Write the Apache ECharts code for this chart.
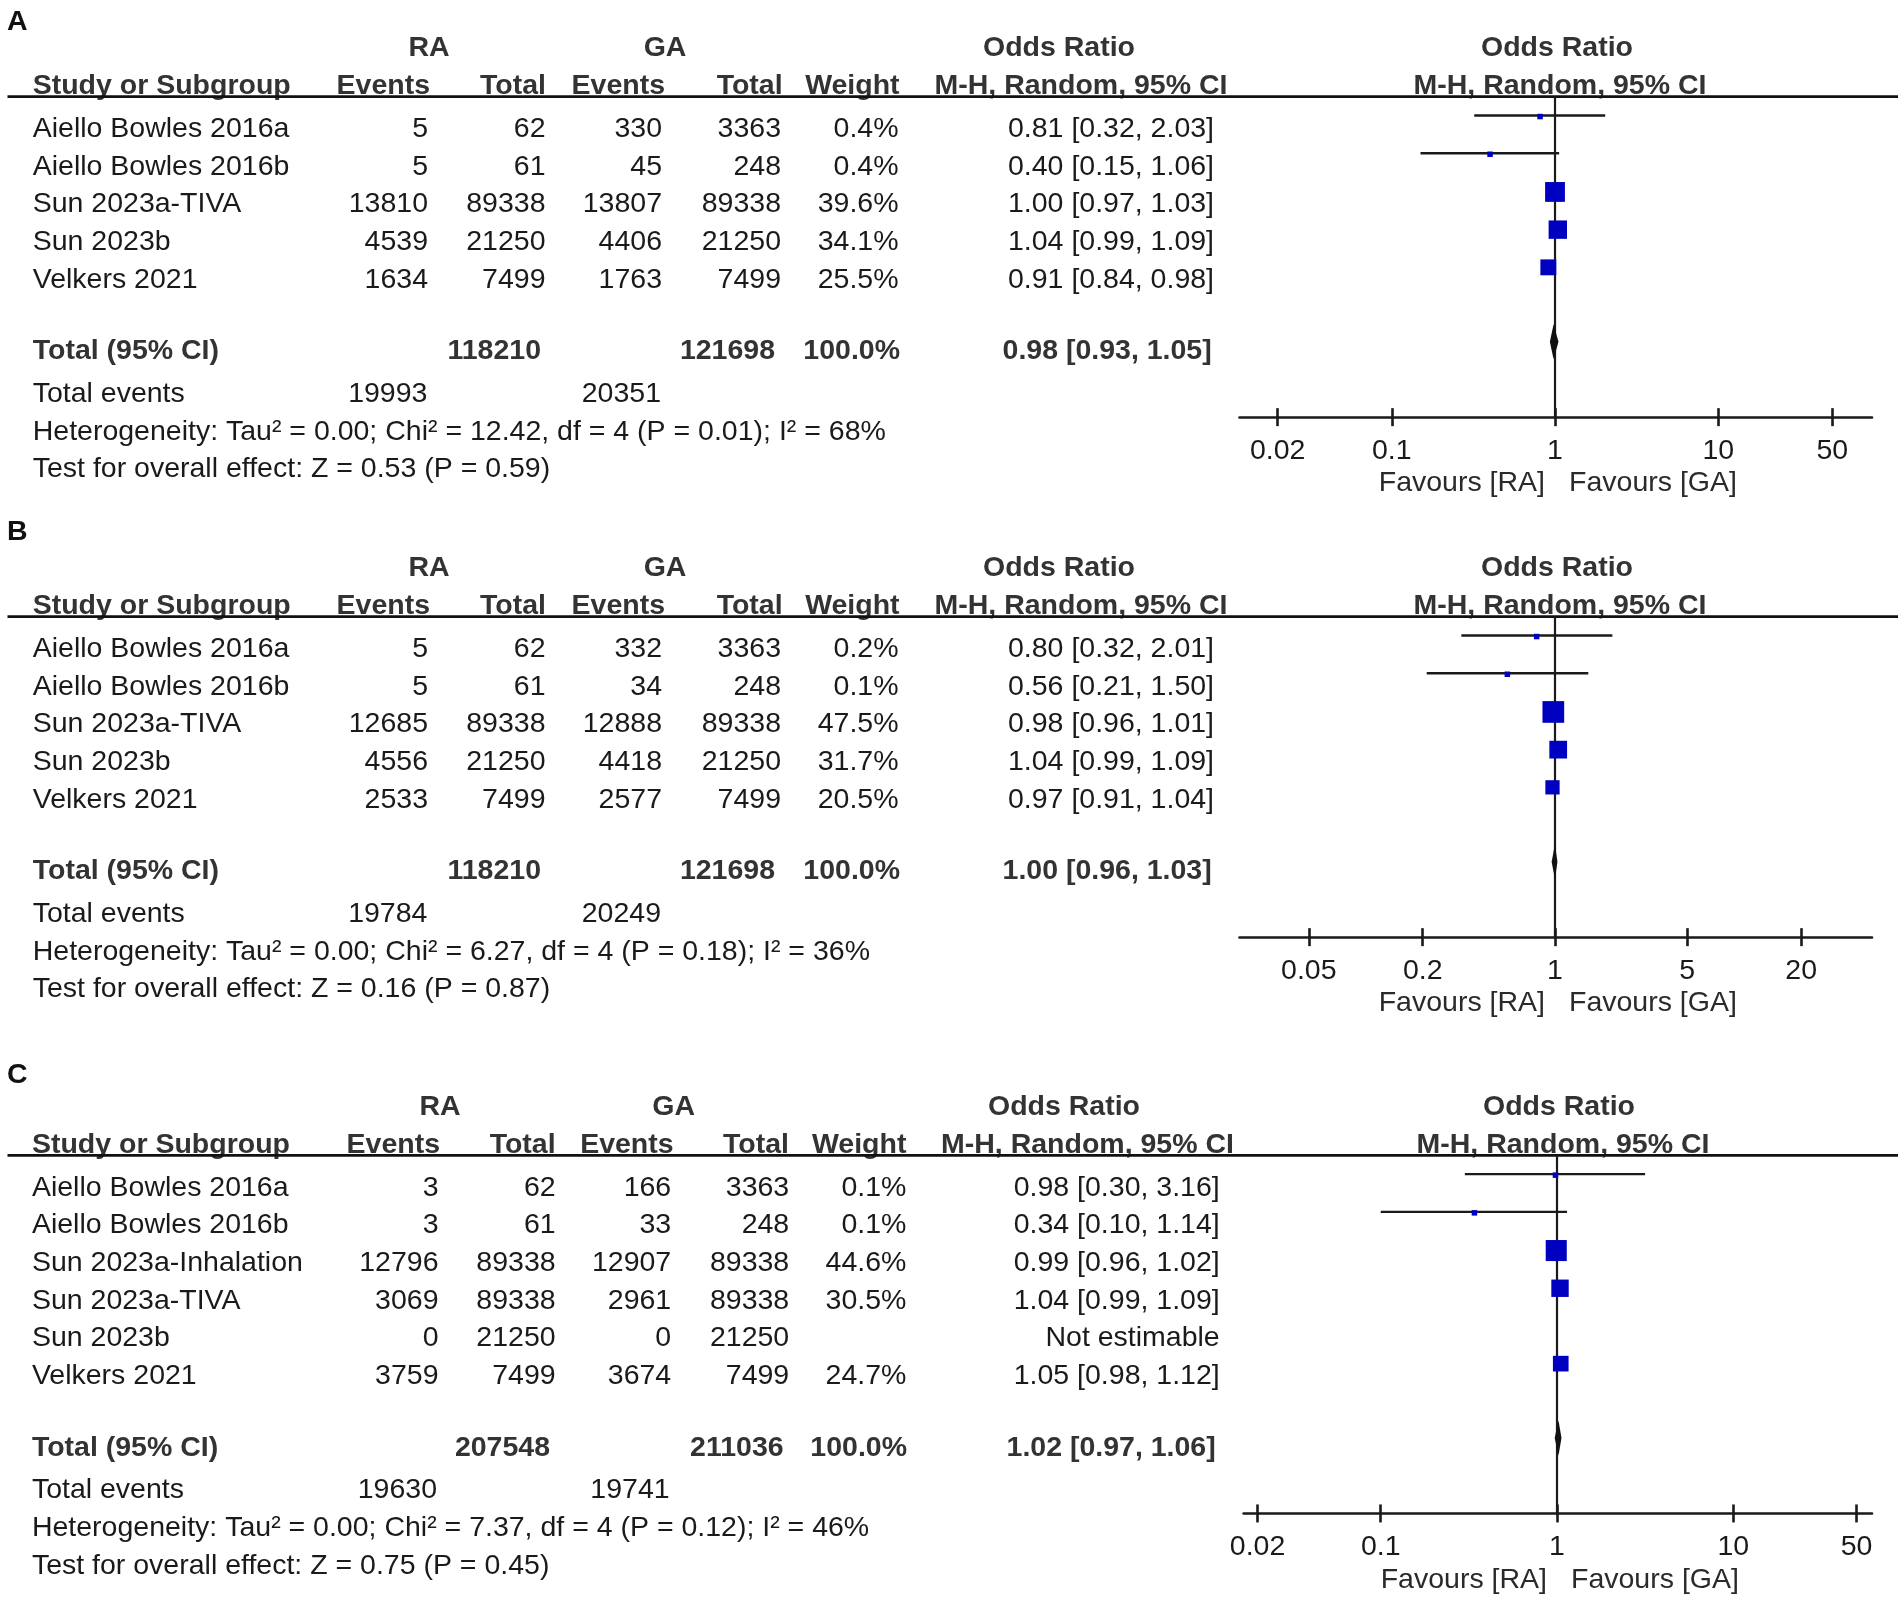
<!DOCTYPE html>
<html><head><meta charset="utf-8">
<script src="https://cdn.jsdelivr.net/npm/echarts@6/dist/echarts.min.js"></script>
<style>html,body{margin:0;padding:0;background:#fff}#c{width:1904px;height:1598px}</style>
</head><body><div id="c"></div>
<script>
// ---------- Panel A ----------
const studiesA = ['Aiello Bowles 2016a','Aiello Bowles 2016b','Sun 2023a-TIVA','Sun 2023b','Velkers 2021'];
const raEventsA = [5,5,13810,4539,1634];
const raTotalA  = [62,61,89338,21250,7499];
const gaEventsA = [330,45,13807,4406,1763];
const gaTotalA  = [3363,248,89338,21250,7499];
const weightA   = [0.4,0.4,39.6,34.1,25.5];
const orA = [0.81,0.40,1.00,1.04,0.91];
const loA = [0.32,0.15,0.97,0.99,0.84];
const hiA = [2.03,1.06,1.03,1.09,0.98];
const pooledA = [0.98,0.93,1.05];
const sumTotalA = [118210,121698];
const sumEventsA = [19993,20351];
const hetA = 'Heterogeneity: Tau² = 0.00; Chi² = 12.42, df = 4 (P = 0.01); I² = 68%';
const testA = 'Test for overall effect: Z = 0.53 (P = 0.59)';
const ticksA = [0.02,0.1,1,10,50];

// ---------- Panel B ----------
const studiesB = ['Aiello Bowles 2016a','Aiello Bowles 2016b','Sun 2023a-TIVA','Sun 2023b','Velkers 2021'];
const raEventsB = [5,5,12685,4556,2533];
const raTotalB  = [62,61,89338,21250,7499];
const gaEventsB = [332,34,12888,4418,2577];
const gaTotalB  = [3363,248,89338,21250,7499];
const weightB   = [0.2,0.1,47.5,31.7,20.5];
const orB = [0.80,0.56,0.98,1.04,0.97];
const loB = [0.32,0.21,0.96,0.99,0.91];
const hiB = [2.01,1.50,1.01,1.09,1.04];
const pooledB = [1.00,0.96,1.03];
const sumTotalB = [118210,121698];
const sumEventsB = [19784,20249];
const hetB = 'Heterogeneity: Tau² = 0.00; Chi² = 6.27, df = 4 (P = 0.18); I² = 36%';
const testB = 'Test for overall effect: Z = 0.16 (P = 0.87)';
const ticksB = [0.05,0.2,1,5,20];

// ---------- Panel C ----------
const studiesC = ['Aiello Bowles 2016a','Aiello Bowles 2016b','Sun 2023a-Inhalation','Sun 2023a-TIVA','Sun 2023b','Velkers 2021'];
const raEventsC = [3,3,12796,3069,0,3759];
const raTotalC  = [62,61,89338,89338,21250,7499];
const gaEventsC = [166,33,12907,2961,0,3674];
const gaTotalC  = [3363,248,89338,89338,21250,7499];
const weightC   = [0.1,0.1,44.6,30.5,null,24.7];
const orC = [0.98,0.34,0.99,1.04,null,1.05];
const loC = [0.30,0.10,0.96,0.99,null,0.98];
const hiC = [3.16,1.14,1.02,1.09,null,1.12];
const pooledC = [1.02,0.97,1.06];
const sumTotalC = [207548,211036];
const sumEventsC = [19630,19741];
const hetC = 'Heterogeneity: Tau² = 0.00; Chi² = 7.37, df = 4 (P = 0.12); I² = 46%';
const testC = 'Test for overall effect: Z = 0.75 (P = 0.45)';
const ticksC = [0.02,0.1,1,10,50];

// ---------- layout (pixels) ----------
const FONT = '"Liberation Sans", Arial, Helvetica, sans-serif';
const FS = 28.5;
const DY = 2.4;
const ROW = 37.7;
const layAB = {name:32.7, cols:[428,545.5,662,781,898.5], hdr:[430,546,665,782.6,899.6],
  tot:[541,775,900,1211.7], ev:[427.4,661], orR:1214, ra:429, ga:665, orHdr:1059, mhHdr:1081, pOR:1557, pMH:1560};
const layC = {name:31.9, cols:[438.5,555.6,671.2,789.2,906.4], hdr:[440,555.6,673.6,789,906.4],
  tot:[550,783.6,907,1215.7], ev:[437,669.6], orR:1219.7, ra:440, ga:673.6, orHdr:1064, mhHdr:1087.5, pOR:1559, pMH:1563};

const panels = [
  {letter:'A', letterY:22, base:0, lay:layAB, left:1239.5, right:1872, xr:[-1.933,1.942], ticks:ticksA,
   studies:studiesA, raE:raEventsA, raT:raTotalA, gaE:gaEventsA, gaT:gaTotalA, w:weightA, or:orA, lo:loA, hi:hiA,
   pooled:pooledA, sumT:sumTotalA, sumE:sumEventsA, het:hetA, test:testA},
  {letter:'B', letterY:532, base:520, lay:layAB, left:1239.5, right:1872, xr:[-1.667,1.675], ticks:ticksB,
   studies:studiesB, raE:raEventsB, raT:raTotalB, gaE:gaEventsB, gaT:gaTotalB, w:weightB, or:orB, lo:loB, hi:hiB,
   pooled:pooledB, sumT:sumTotalB, sumE:sumEventsB, het:hetB, test:testB},
  {letter:'C', letterY:1075.5, base:1058.6, lay:layC, left:1243.6, right:1872, xr:[-1.778,1.787], ticks:ticksC,
   studies:studiesC, raE:raEventsC, raT:raTotalC, gaE:gaEventsC, gaT:gaTotalC, w:weightC, or:orC, lo:loC, hi:hiC,
   pooled:pooledC, sumT:sumTotalC, sumE:sumEventsC, het:hetC, test:testC}
];

const INK = '#1a1a1a', BOLDINK = '#333333', BLUE = '#0000C0';
const lg = Math.log10;
const tickFmt = v => String(parseFloat(Math.pow(10, v).toPrecision(2)));

const grids = [], xAxes = [], yAxes = [], series = [];
panels.forEach((p, g) => {
  const n = p.studies.length;
  const top = p.base + 96.7;
  grids.push({left:p.left, width:p.right - p.left, top:top, height:(n + 3.5) * ROW, containLabel:false});
  const tv = p.ticks.map(lg);
  xAxes.push({type:'value', gridIndex:g, min:p.xr[0], max:p.xr[1], position:'bottom', offset:0,
    axisLine:{show:true, onZero:false, lineStyle:{color:INK, width:2.6}},
    axisTick:{show:true, customValues:tv, length:9, inside:false, lineStyle:{color:INK, width:2.6}},
    axisLabel:{show:true, customValues:tv, formatter:tickFmt, margin:19, fontSize:FS, color:INK, fontFamily:FONT},
    splitLine:{show:false}});
  xAxes.push({type:'value', gridIndex:g, min:p.xr[0], max:p.xr[1], position:'bottom', offset:0,
    axisLine:{show:false, onZero:false},
    axisTick:{show:true, customValues:tv, length:9, inside:true, lineStyle:{color:INK, width:2.6}},
    axisLabel:{show:false}, splitLine:{show:false}});
  yAxes.push({type:'value', gridIndex:g, min:-0.5, max:n + 3, inverse:true, show:false});

  // line of no effect
  series.push({type:'line', xAxisIndex:2*g, yAxisIndex:g, data:[[0,-0.5],[0,n+3]], symbol:'none',
    lineStyle:{color:INK, width:2.2}, silent:true, z:1});
  // study CIs and squares
  const ci = [];
  p.or.forEach((v, i) => {
    if (v == null) return;
    ci.push([lg(p.lo[i]), lg(p.hi[i]), lg(v), i, Math.max(5.5, 3.15 * Math.sqrt(p.w[i]))]);
  });
  series.push({type:'custom', xAxisIndex:2*g, yAxisIndex:g, data:ci, encode:{x:[0,1,2], y:3}, silent:true, z:3,
    renderItem:(params, api) => {
      const y = api.value(3), s = api.value(4);
      const a = api.coord([api.value(0), y]), b = api.coord([api.value(1), y]), c = api.coord([api.value(2), y]);
      return {type:'group', children:[
        {type:'line', shape:{x1:a[0], y1:a[1], x2:b[0], y2:b[1]}, style:{stroke:INK, lineWidth:2.4}},
        {type:'rect', shape:{x:c[0]-s/2, y:c[1]-s/2 + 1, width:s, height:s}, style:{fill:BLUE}}
      ]};
    }});
  // pooled diamond
  series.push({type:'custom', xAxisIndex:2*g, yAxisIndex:g,
    data:[[lg(p.pooled[1]), lg(p.pooled[2]), lg(p.pooled[0]), n + 1]], encode:{x:[0,1,2], y:3}, silent:true, z:3,
    renderItem:(params, api) => {
      const y = api.value(3), h = 17.5;
      const a = api.coord([api.value(0), y]), b = api.coord([api.value(1), y]), c = api.coord([api.value(2), y]);
      return {type:'polygon', shape:{points:[[a[0],a[1]],[c[0],c[1]-h],[b[0],b[1]],[c[0],c[1]+h]]},
        style:{fill:'#111111'}};
    }});
});

const chart = echarts.init(document.getElementById('c'), null, {renderer:'canvas'});
chart.setOption({backgroundColor:'#ffffff', animation:false, grid:grids, xAxis:xAxes, yAxis:yAxes, series:series});

// ---------- table text ----------
function T(x, y, s, align, bold, color) {
  return {type:'text', silent:true, style:{text:String(s), x:x, y:y + DY, align:align, verticalAlign:'middle',
    textAlign:align, textVerticalAlign:'middle', fontSize:FS, fontWeight:bold ? 'bold' : 'normal',
    fontFamily:FONT, fill:color || (bold ? BOLDINK : INK)}};
}
const gr = [];
panels.forEach((p, g) => {
  const L = p.lay, B = p.base, n = p.studies.length;
  gr.push(T(7, p.letterY - DY, p.letter, 'left', true, '#111'));
  // group headers
  gr.push(T(L.ra, B + 46, 'RA', 'center', true));
  gr.push(T(L.ga, B + 46, 'GA', 'center', true));
  gr.push(T(L.orHdr, B + 46, 'Odds Ratio', 'center', true));
  gr.push(T(L.pOR, B + 46, 'Odds Ratio', 'center', true));
  // column headers
  const hy = B + 84;
  gr.push(T(L.name, hy, 'Study or Subgroup', 'left', true));
  ['Events','Total','Events','Total','Weight'].forEach((h, k) => gr.push(T(L.hdr[k], hy, h, 'right', true)));
  gr.push(T(L.mhHdr, hy, 'M-H, Random, 95% CI', 'center', true));
  gr.push(T(L.pMH, hy, 'M-H, Random, 95% CI', 'center', true));
  gr.push({type:'line', silent:true, shape:{x1:7.5, y1:B + 96.7, x2:1898, y2:B + 96.7}, style:{stroke:'#111', lineWidth:2.8}});
  // rows
  p.studies.forEach((s, i) => {
    const y = B + 126.7 + ROW * i;
    gr.push(T(L.name, y, s, 'left'));
    gr.push(T(L.cols[0], y, p.raE[i], 'right'));
    gr.push(T(L.cols[1], y, p.raT[i], 'right'));
    gr.push(T(L.cols[2], y, p.gaE[i], 'right'));
    gr.push(T(L.cols[3], y, p.gaT[i], 'right'));
    if (p.w[i] != null) gr.push(T(L.cols[4], y, p.w[i].toFixed(1) + '%', 'right'));
    const txt = p.or[i] == null ? 'Not estimable'
      : p.or[i].toFixed(2) + ' [' + p.lo[i].toFixed(2) + ', ' + p.hi[i].toFixed(2) + ']';
    gr.push(T(L.orR, y, txt, 'right'));
  });
  // totals
  const ty = B + 126.7 + ROW * (n + 0.9);
  gr.push(T(L.name, ty, 'Total (95% CI)', 'left', true));
  gr.push(T(L.tot[0], ty, p.sumT[0], 'right', true));
  gr.push(T(L.tot[1], ty, p.sumT[1], 'right', true));
  gr.push(T(L.tot[2], ty, '100.0%', 'right', true));
  gr.push(T(L.tot[3], ty, p.pooled[0].toFixed(2) + ' [' + p.pooled[1].toFixed(2) + ', ' + p.pooled[2].toFixed(2) + ']', 'right', true));
  gr.push(T(L.name, ty + 42.5, 'Total events', 'left'));
  gr.push(T(L.ev[0], ty + 42.5, p.sumE[0], 'right'));
  gr.push(T(L.ev[1], ty + 42.5, p.sumE[1], 'right'));
  gr.push(T(L.name, ty + 80.5, p.het, 'left'));
  gr.push(T(L.name, ty + 118, p.test, 'left'));
  // favours labels, positioned at the line of no effect
  const o = chart.convertToPixel({gridIndex:g}, [0, n + 3]);
  gr.push(T(o[0] - 10, o[1] + 64, 'Favours [RA]', 'right', false, '#2a2a2a'));
  gr.push(T(o[0] + 14, o[1] + 64, 'Favours [GA]', 'left', false, '#2a2a2a'));
});
chart.setOption({graphic:gr});
</script></body></html>
